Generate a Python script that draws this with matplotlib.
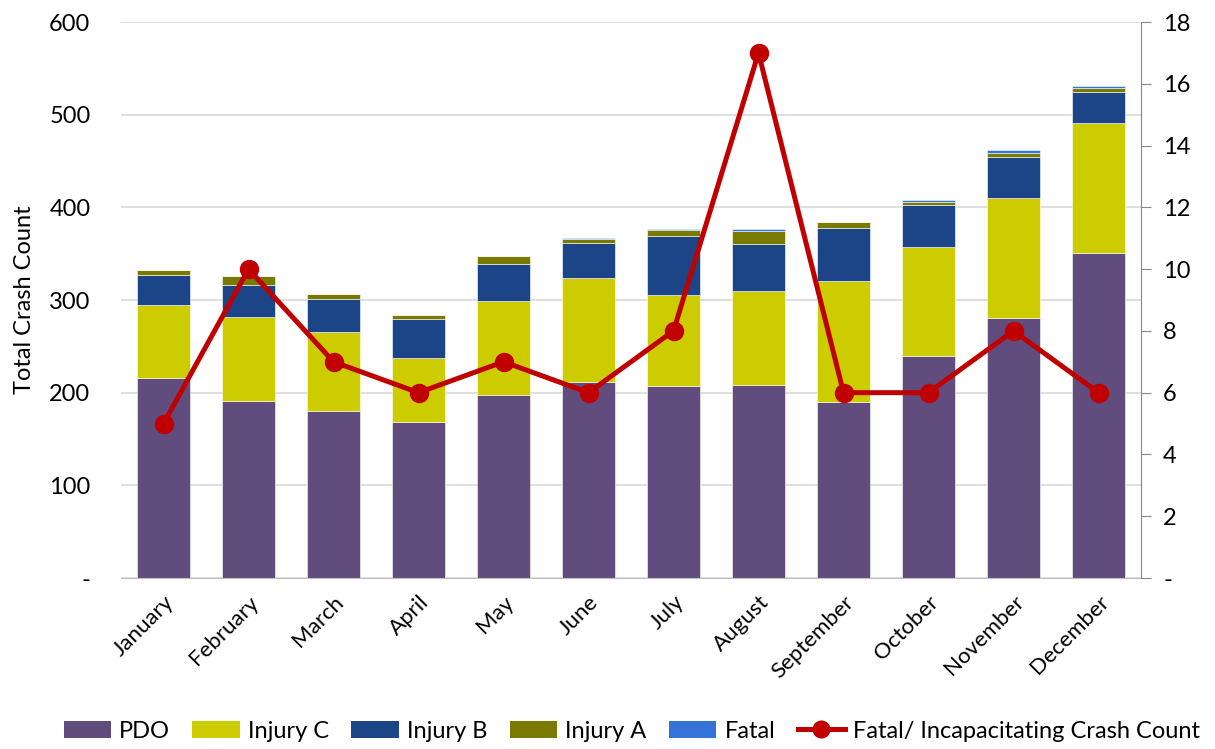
import matplotlib.pyplot as plt
import numpy as np
from matplotlib.lines import Line2D
from matplotlib.patches import Patch
from matplotlib.ticker import FuncFormatter

plt.rcParams["font.family"] = ["Lato", "DejaVu Sans"]

months = ["January", "February", "March", "April", "May", "June",
          "July", "August", "September", "October", "November", "December"]
pdo = [216, 191, 180, 168, 198, 212, 207, 208, 190, 240, 281, 351]
injury_c = [79, 91, 85, 69, 101, 112, 98, 102, 130, 117, 129, 140]
injury_b = [32, 34, 36, 42, 40, 37, 64, 50, 58, 45, 44, 34]
injury_a = [5, 10, 5, 5, 8, 5, 7, 15, 6, 4, 5, 4]
fatal = [0, 0, 1, 0, 0, 1, 1, 2, 0, 2, 3, 2]
fatal_incap = [5, 10, 7, 6, 7, 6, 8, 17, 6, 6, 8, 6]

series = [
    ("PDO", pdo, "#614d7d"),
    ("Injury C", injury_c, "#cccc00"),
    ("Injury B", injury_b, "#1b4586"),
    ("Injury A", injury_a, "#7a7a00"),
    ("Fatal", fatal, "#3374d6"),
]
line_color = "#c00000"

fig = plt.figure(figsize=(12.15, 7.49), dpi=100)
ax = fig.add_axes([0.0996, 0.2283, 0.8395, 0.7423])
x = np.arange(len(months))
bottom = np.zeros(len(months))
for name, vals, color in series:
    ax.bar(x, vals, width=0.62, bottom=bottom, color=color,
           edgecolor="white", linewidth=0.4, zorder=2)
    bottom += np.array(vals)

ax.set_ylim(0, 600)
ax.set_xlim(-0.5, len(months) - 0.5)
ax.set_yticks(range(0, 601, 100))
dash_zero = FuncFormatter(lambda v, p: "-" if v == 0 else f"{int(v)}")
ax.yaxis.set_major_formatter(dash_zero)
ax.yaxis.grid(True, color="#d9d9d9", linewidth=1.2)
ax.set_axisbelow(True)
ax.set_xticks(x)
ax.set_xticklabels(months, rotation=45, ha="right", rotation_mode="anchor")
ax.tick_params(axis="x", length=0, labelsize=16, pad=10)
ax.tick_params(axis="y", length=0, labelsize=17, pad=22)
ax.set_ylabel("Total Crash Count", fontsize=17)
ax.yaxis.set_label_coords(-0.084, 0.5)
for s in ["top", "left", "right"]:
    ax.spines[s].set_visible(False)
ax.spines["bottom"].set_color("#bfbfbf")

ax2 = ax.twinx()
ax2.plot(x, fatal_incap, color=line_color, linewidth=3.6, marker="o",
         markersize=13, zorder=5)
ax2.set_ylim(0, 18)
ax2.set_yticks(range(0, 19, 2))
ax2.yaxis.set_major_formatter(dash_zero)
ax2.tick_params(axis="y", length=7, color="#888888", labelsize=17, pad=9)
for s in ["top", "left", "bottom"]:
    ax2.spines[s].set_visible(False)
ax2.spines["right"].set_color("#888888")

handles = [Patch(facecolor=c, label=n) for n, _, c in series]
handles.append(Line2D([0], [0], color=line_color, linewidth=3.6, marker="o",
                      markersize=12, label="Fatal/ Incapacitating Crash Count"))
fig.legend(handles=handles, loc="center", ncol=6, frameon=False,
           fontsize=17, bbox_to_anchor=(0.52, 0.024), handlelength=2.0,
           handleheight=0.7, columnspacing=0.95, handletextpad=0.35)

fig.savefig("out.png", dpi=100)
